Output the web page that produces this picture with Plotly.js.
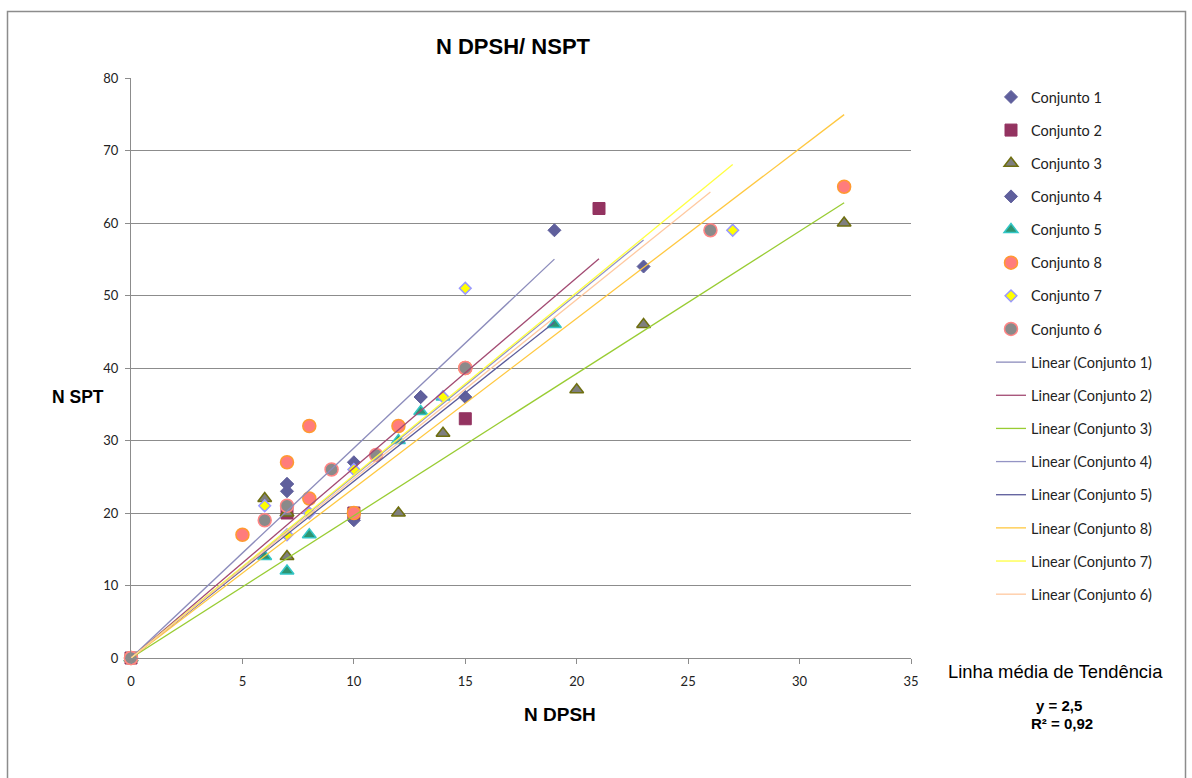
<!DOCTYPE html>
<html>
<head>
<meta charset="utf-8">
<script src="https://cdn.plot.ly/plotly-3.0.1.min.js"></script>
<style>
  html, body { margin: 0; padding: 0; background: #ffffff; }
  #chart { width: 1192px; height: 778px; }
</style>
</head>
<body>
<div id="chart"></div>
<script>
// N DPSH (x) against N SPT (y) for each data set
const conj1X = [0, 7, 7, 10, 13, 19];
const conj1Y = [0, 24, 23, 19, 36, 59];
const conj2X = [0, 7, 10, 15, 21];
const conj2Y = [0, 20, 20, 33, 62];
const conj3X = [0, 6, 7, 7, 12, 14, 20, 23, 32];
const conj3Y = [0, 22, 20, 14, 20, 31, 37, 46, 60];
const conj4X = [0, 7, 10, 13, 15, 23];
const conj4Y = [0, 24, 27, 36, 36, 54];
const conj5X = [0, 6, 7, 8, 12, 13, 14, 19];
const conj5Y = [0, 14, 12, 17, 30, 34, 36, 46];
const conj8X = [0, 5, 7, 8, 8, 10, 12, 15, 32];
const conj8Y = [0, 17, 27, 22, 32, 20, 32, 40, 65];
const conj7X = [0, 6, 7, 8, 10, 14, 15, 27];
const conj7Y = [0, 21, 17, 20, 26, 36, 51, 59];
const conj6X = [0, 6, 7, 9, 11, 15, 26];
const conj6Y = [0, 19, 21, 26, 28, 40, 59];

const seriesNames = ['Conjunto 1', 'Conjunto 2', 'Conjunto 3', 'Conjunto 4',
                     'Conjunto 5', 'Conjunto 8', 'Conjunto 7', 'Conjunto 6'];
const xTickVals = [0, 5, 10, 15, 20, 25, 30, 35];
const yTickVals = [0, 10, 20, 30, 40, 50, 60, 70, 80];

const seriesData = [
  [conj1X, conj1Y], [conj2X, conj2Y], [conj3X, conj3Y], [conj4X, conj4Y],
  [conj5X, conj5Y], [conj8X, conj8Y], [conj7X, conj7Y], [conj6X, conj6Y]
];

// marker styles per set
const markerStyles = [
  {symbol: 'diamond', size: 10, color: '#5f5f9c', line: {color: '#5f5f9c', width: 1}},
  {symbol: 'square', size: 12, color: '#933360', line: {color: '#933360', width: 1}},
  {symbol: 'triangle-up', size: 12, color: '#7f7f7f', line: {color: '#6f6f10', width: 1.5}},
  {symbol: 'diamond', size: 10, color: '#5f5f9c', line: {color: '#5f5f9c', width: 1}},
  {symbol: 'triangle-up', size: 12, color: '#2e9470', line: {color: '#33c6c6', width: 1.5}},
  {symbol: 'circle', size: 13, color: '#ff7c7c', line: {color: '#ff9a30', width: 1.5}},
  {symbol: 'diamond', size: 9, color: '#ffff00', line: {color: '#9999ff', width: 1.5}},
  {symbol: 'circle', size: 13, color: '#8a8a8a', line: {color: '#ff8585', width: 1.5}}
];
const trendColors = ['#8c8cbc', '#a24a72', '#99cc33', '#9494c4',
                     '#5a5a9a', '#ffc840', '#ffff40', '#ffc9a0'];

// least-squares line through the origin, drawn from 0 to the largest x of the set
function originFit(xs, ys) {
  let sxy = 0, sxx = 0;
  for (let i = 0; i < xs.length; i++) { sxy += xs[i] * ys[i]; sxx += xs[i] * xs[i]; }
  const k = sxy / sxx;
  const xm = Math.max.apply(null, xs);
  return {x: [0, xm], y: [0, k * xm]};
}

const traces = [];
seriesData.forEach(function (d, i) {
  traces.push({
    type: 'scatter', mode: 'markers', x: d[0], y: d[1],
    name: seriesNames[i], legendgroup: 'm' + i,
    marker: markerStyles[i], cliponaxis: false
  });
});
seriesData.forEach(function (d, i) {
  const f = originFit(d[0], d[1]);
  traces.push({
    type: 'scatter', mode: 'lines', x: f.x, y: f.y,
    name: 'Linear (' + seriesNames[i] + ')', legendgroup: 'l' + i,
    line: {color: trendColors[i], width: 1.3}, cliponaxis: false
  });
});

// pixel helpers for the fixed 1192x778 canvas
const L = 131, R = 911, T = 78, B = 658;
const px = v => (v - L) / (R - L);
const py = v => (B - v) / (B - T);

const layout = {
  width: 1192, height: 778,
  margin: {l: L, r: 1192 - R, t: T, b: 778 - B},
  paper_bgcolor: '#ffffff', plot_bgcolor: '#ffffff',
  font: {family: 'Lato, sans-serif', color: '#222222', size: 13},
  title: {
    text: '<b>N DPSH/ NSPT</b>',
    font: {family: '"Liberation Sans", Arial, sans-serif', size: 22, color: '#000000'},
    x: px(513), xref: 'paper', xanchor: 'center',
    y: 1 - 46 / 778, yref: 'container', yanchor: 'middle'
  },
  xaxis: {
    range: [0, 35], tickvals: xTickVals, showgrid: false, zeroline: false,
    showline: true, linecolor: '#8c8c8c', linewidth: 1,
    ticks: 'outside', ticklen: 5, tickcolor: '#8c8c8c', ticklabelstandoff: 6,
    tickfont: {family: 'Lato, sans-serif', size: 13, color: '#222222'}
  },
  yaxis: {
    range: [0, 80], tickvals: yTickVals, showgrid: true, gridcolor: '#8c8c8c', gridwidth: 1,
    zeroline: false, showline: true, linecolor: '#8c8c8c', linewidth: 1,
    ticks: 'outside', ticklen: 5, tickcolor: '#8c8c8c', ticklabelstandoff: 4,
    tickfont: {family: 'Lato, sans-serif', size: 13, color: '#222222'}
  },
  showlegend: true,
  legend: {
    x: px(991), xanchor: 'left', y: py(81), yanchor: 'top',
    traceorder: 'grouped', tracegroupgap: 11.3,
    font: {family: 'Lato, sans-serif', size: 14.5, color: '#222222'},
    bgcolor: 'rgba(0,0,0,0)', borderwidth: 0
  },
  annotations: [
    {text: '<b>N SPT</b>', xref: 'paper', yref: 'paper', x: px(78), y: py(397),
     showarrow: false, xanchor: 'center', yanchor: 'middle',
     font: {family: '"Liberation Sans", Arial, sans-serif', size: 17.5, color: '#000000'}},
    {text: '<b>N DPSH</b>', xref: 'paper', yref: 'paper', x: px(560), y: py(714),
     showarrow: false, xanchor: 'center', yanchor: 'middle',
     font: {family: '"Liberation Sans", Arial, sans-serif', size: 19, color: '#000000'}},
    {text: 'Linha média de Tendência', xref: 'paper', yref: 'paper', x: px(1055), y: py(671),
     showarrow: false, xanchor: 'center', yanchor: 'middle',
     font: {family: '"Liberation Sans", Arial, sans-serif', size: 18.4, color: '#000000'}},
    {text: '<b>y = 2,5</b>', xref: 'paper', yref: 'paper', x: px(1059), y: py(705),
     showarrow: false, xanchor: 'center', yanchor: 'middle',
     font: {family: '"Liberation Sans", Arial, sans-serif', size: 15, color: '#000000'}},
    {text: '<b>R² = 0,92</b>', xref: 'paper', yref: 'paper', x: px(1062), y: py(723),
     showarrow: false, xanchor: 'center', yanchor: 'middle',
     font: {family: '"Liberation Sans", Arial, sans-serif', size: 15, color: '#000000'}}
  ],
  shapes: [
    {type: 'rect', xref: 'paper', yref: 'paper',
     x0: px(7.5), x1: px(1185.5), y0: py(800), y1: py(11.5),
     line: {color: '#8c8c8c', width: 1.5}, fillcolor: 'rgba(0,0,0,0)', layer: 'below'}
  ]
};

Plotly.newPlot('chart', traces, layout, {displayModeBar: false, staticPlot: true});
</script>
</body>
</html>
